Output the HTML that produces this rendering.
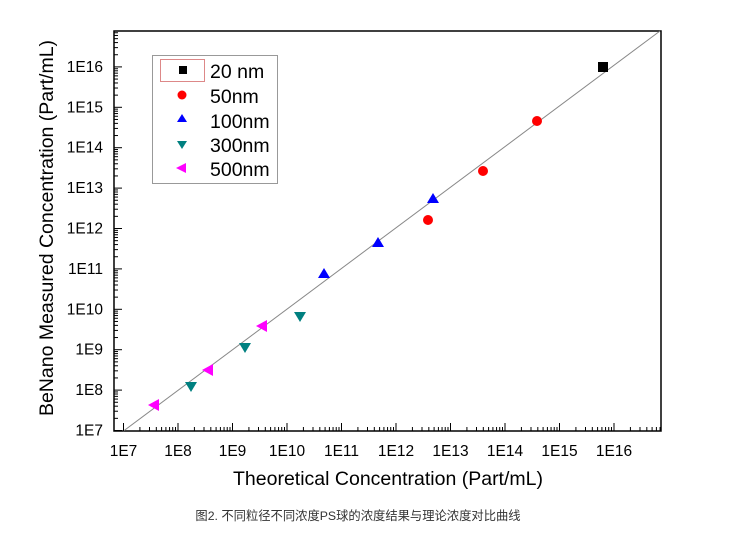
<!DOCTYPE html>
<html><head><meta charset="utf-8"><style>
body{margin:0;background:#fff;width:753px;height:541px;overflow:hidden}
svg{display:block}
text{font-family:"Liberation Sans",Arial,sans-serif}
</style></head><body>
<svg id="s" width="753" height="541" xmlns="http://www.w3.org/2000/svg">
<rect x="114" y="31" width="547" height="400" fill="none" stroke="#000" stroke-width="1.5"/>
<line x1="123.5" y1="431" x2="660" y2="31" stroke="#888" stroke-width="1"/>
<g id="ticks" stroke="#000" stroke-width="1"></g>
<g id="labels" font-size="15.5" fill="#000"></g>
<rect x="598" y="62" width="10" height="10" fill="#000"/>
<circle cx="428" cy="220" r="5" fill="#f00"/>
<circle cx="483" cy="171" r="5" fill="#f00"/>
<circle cx="537" cy="121" r="5" fill="#f00"/>
<g fill="#00f">
<polygon points="324,268 330,278 318,278"/>
<polygon points="378,237 384,247 372,247"/>
<polygon points="433,193 439,203 427,203"/>
</g>
<g fill="#008080">
<polygon points="185,382 197,382 191,392"/>
<polygon points="239,343 251,343 245,353"/>
<polygon points="294,312 306,312 300,322"/>
</g>
<g fill="#f0f">
<polygon points="148,405 159,399 159,411"/>
<polygon points="202,370 213,364 213,376"/>
<polygon points="256,326 267,320 267,332"/>
</g>
<rect x="152.5" y="55.5" width="125" height="128" fill="#fff" stroke="#999" stroke-width="1"/>
<rect x="160.5" y="59.5" width="44" height="22" fill="none" stroke="#d88" stroke-width="1"/>
<rect x="179" y="66" width="8" height="8" fill="#000"/>
<circle cx="182" cy="95" r="4.5" fill="#f00"/>
<polygon points="182,114 187,122 177,122" fill="#00f"/>
<polygon points="177,141 187,141 182,149" fill="#008080"/>
<polygon points="176,168 186,163 186,173" fill="#f0f"/>
<g font-size="19.5" fill="#000">
<text x="210" y="78">20 nm</text>
<text x="210" y="103">50nm</text>
<text x="210" y="128">100nm</text>
<text x="210" y="152">300nm</text>
<text x="210" y="176">500nm</text>
</g>
<text x="388" y="485" font-size="19.5" text-anchor="middle">Theoretical Concentration (Part/mL)</text>
<text transform="translate(53,228) rotate(-90)" font-size="19.5" text-anchor="middle">BeNano Measured Concentration (Part/mL)</text>
<text x="358" y="520" font-size="12.3" text-anchor="middle" fill="#333" style="font-family:'Liberation Sans','Noto Sans CJK SC',sans-serif">图2. 不同粒径不同浓度PS球的浓度结果与理论浓度对比曲线</text>
</svg>
<script>
var ns="http://www.w3.org/2000/svg",t=document.getElementById('ticks'),l=document.getElementById('labels');
function ln(a,b,c,d){var e=document.createElementNS(ns,'line');e.setAttribute('x1',a);e.setAttribute('y1',b);e.setAttribute('x2',c);e.setAttribute('y2',d);t.appendChild(e);}
function tx(x,y,s,an){var e=document.createElementNS(ns,'text');e.setAttribute('x',x);e.setAttribute('y',y);e.setAttribute('text-anchor',an);e.textContent=s;l.appendChild(e);}
var x0=123.5,dx=54.5,y0=430.5,dy=40.4;
for(var d=7;d<=16;d++){
 var x=x0+(d-7)*dx,y=y0-(d-7)*dy;
 ln(x,431,x,423);ln(114,y,122,y);
 tx(x,456,'1E'+d,'middle');tx(103,y+5,'1E'+d,'end');
 for(var k=2;k<=9;k++){var f=Math.log10(k);var xm=x+f*dx,ym=y-f*dy;
  if(xm<661)ln(xm,431,xm,427);if(ym>31)ln(114,ym,118,ym);}
}
</script>
</body></html>
